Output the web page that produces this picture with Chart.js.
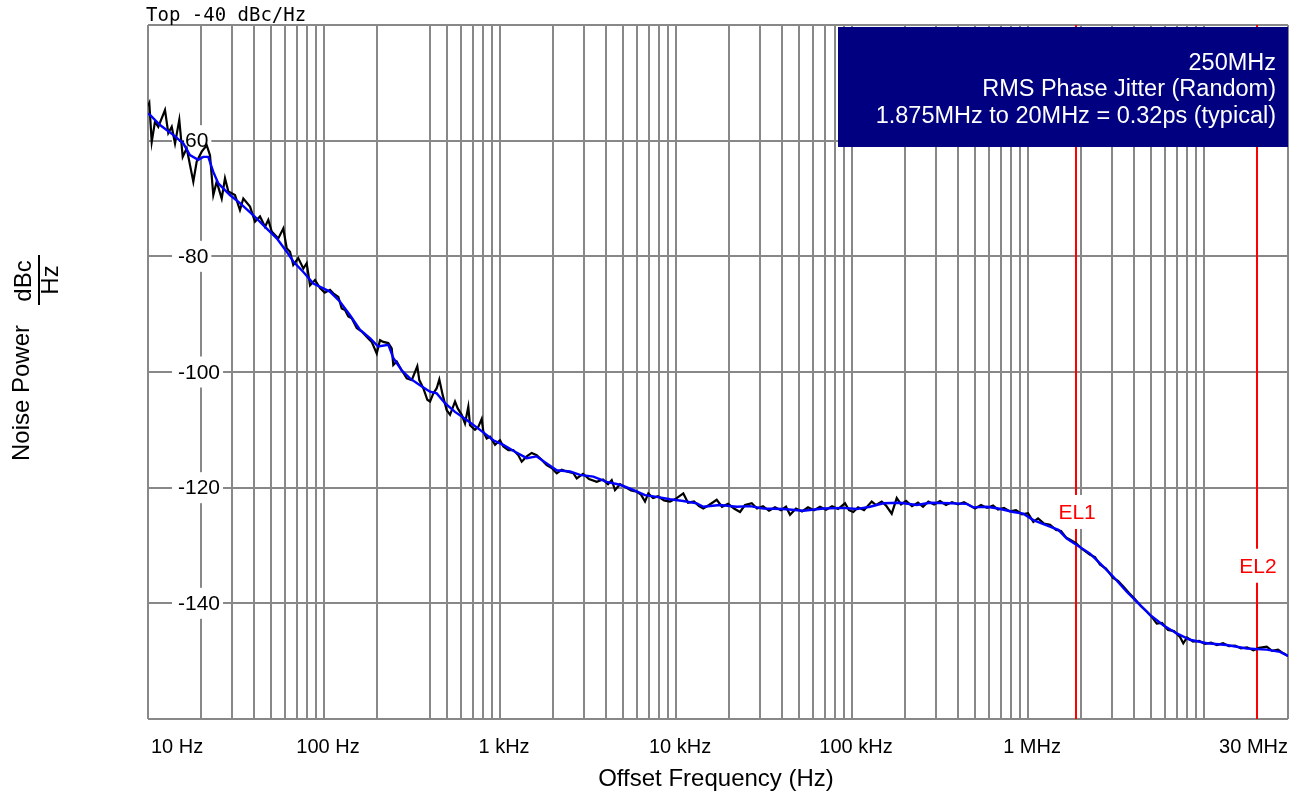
<!DOCTYPE html>
<html><head><meta charset="utf-8">
<script src="https://cdn.jsdelivr.net/npm/chart.js@4/dist/chart.umd.min.js"></script>
<style>html,body{margin:0;padding:0;background:#fff}#wrap{width:1294px;height:796px}</style>
</head><body><div id="wrap"><canvas id="c" width="1294" height="796"></canvas></div>
<script>
// ---- raw measured noise (black) ----
const blackFreq = [10,10.17,10.5,10.96,11.44,12.49,13.04,13.64,14.24,15.06,15.75,16.59,18.09,18.91,20.19,21.56,22.5,23.5,24.56,26.23,27.38,28.6,31.2,33.3,34.8,37.98,40.55,43.29,46.22,48.26,50.45,55.0,58.7,61.4,64.1,66.9,71.4,76.3,79.7,83.3,88.9,94.9,101,
108.2,112.9,120.6,126.1,131.6,137.4,143.7,153.4,163.8,171.0,178.5,186.6,199.3,208.1,217.3,231.9,242.5,247.6,258.9,276.4,295.1,315.1,338.9,347.9,366.6,386.4,400.3,417.9,436.9,452.0,472.6,498.1,520.0,555.2,575.2,605.9,632.6,660.5,675.3,721.1,752.9,787.1,803.8,840.3,877.4,936.8,
1000,1044,1115,1190,1271,1328,1418,1514,1616,1726,1842,1967,2100,2242,2393,2610,2728,2962,3204,3543,3847,4108,4312,4502,4808,5200,5552,5981,6326,6666,6960,7403,7903,8548,9245,
10000,11003,11700,12660,13510,14290,15400,17030,18260,19750,21360,23100,24660,26930,28860,31210,33760,36510,39500,42170,44430,48060,51990,56230,60820,65790,71160,76980,83260,91250,96160,
101700,108200,117000,129400,136900,147500,156100,168100,179500,189900,202700,219200,237100,253200,271400,292400,316200,342000,370000,400200,432800,468100,500000,540800,584800,632600,675300,730400,790000,854500,924500,
1000000,1072000,1140000,1233000,1334000,1443000,1540000,1644000,1755000,1874000,2027000,2251000,2403000,2566000,2775000,3041000,3247000,3480000,3749000,4055000,4385000,4725000,5064000,5387000,5773000,6244000,6753000,7304000,7625000,8006000,8660000,9367000,
10130000,10960000,11850000,12820000,13870000,15000000,16230000,17550000,19060000,20540000,22720000,24350000,26330000,28110000,30000000];
const blackVal = [-54.0,-53.5,-60.2,-56.7,-57.6,-54.7,-58.7,-57.6,-60.5,-56.4,-62.8,-61.3,-67.1,-63.6,-61.9,-60.8,-62.5,-69.4,-67.1,-70.0,-66.5,-68.8,-69.4,-72.0,-70.0,-71.4,-74.0,-73.1,-74.9,-73.7,-75.7,-76.9,-75.2,-78.6,-79.2,-81.5,-80.3,-82.1,-81.2,-85.0,-84.1,-85.5,-86.3,
-85.8,-86.4,-87.0,-89.0,-89.3,-90.4,-90.7,-92.4,-93.0,-93.6,-94.2,-94.8,-96.8,-94.5,-94.8,-95.0,-95.9,-98.8,-98.2,-99.7,-101.1,-101.4,-99.0,-101.4,-102.8,-104.8,-105.1,-103.7,-102.8,-101.3,-104.0,-106.6,-107.4,-105.1,-106.3,-107.4,-108.9,-106.0,-109.2,-110.0,-109.5,-108.1,-110.3,-111.5,-111.2,-112.6,
-111.8,-112.9,-113.5,-113.5,-114.4,-115.5,-114.6,-114.0,-114.4,-115.2,-116.1,-116.6,-117.5,-116.9,-117.2,-117.5,-118.4,-117.6,-118.5,-119.0,-118.6,-119.4,-118.7,-120.4,-119.4,-120.0,-120.5,-120.7,-121.2,-122.4,-121.0,-121.8,-121.5,-122.2,-122.4,
-121.9,-121.0,-122.6,-122.4,-123.2,-123.6,-123.0,-122.1,-123.3,-122.8,-123.6,-124.2,-123.0,-122.7,-123.6,-123.2,-124.0,-123.4,-123.9,-123.3,-124.7,-123.6,-124.1,-123.4,-123.9,-123.3,-123.8,-123.2,-123.7,-122.7,-123.9,
-124.2,-123.4,-123.9,-122.4,-123.0,-122.4,-123.1,-124.5,-121.8,-122.9,-122.3,-123.2,-122.6,-123.3,-122.4,-122.9,-122.3,-123.0,-122.5,-122.9,-122.5,-123.1,-123.6,-123.0,-123.5,-123.1,-123.8,-123.5,-124.1,-123.9,-124.6,
-124.4,-125.9,-125.3,-126.2,-126.4,-127.3,-127.5,-128.6,-129.1,-129.6,-130.6,-131.6,-132.0,-133.3,-134.0,-135.6,-136.1,-137.1,-138.2,-139.3,-140.5,-141.4,-142.4,-143.5,-143.4,-144.6,-144.8,-145.8,-146.9,-145.9,-146.6,-146.5,
-147.0,-146.8,-147.2,-146.9,-147.4,-147.3,-147.8,-147.6,-148.1,-147.7,-147.5,-148.2,-148.0,-148.6,-149.1];

// ---- smoothed noise (blue) ----
const blueFreq = [10,10.3,11.7,13.9,15.9,17.3,19.3,20.6,22.0,23.5,25.1,29.2,33.3,39.7,47.3,53.9,61.4,66.9,76.3,87.0,108,123,140,160,183,203,232,248,276,308,351,400,437,487,555,647,770,916,
1044,1217,1418,1616,1842,2100,2500,2848,3390,4040,4808,5720,6666,7768,9245,11000,13110,14290,17780,22130,26330,31330,40710,52890,68690,89260,106300,126600,150600,187400,233200,277500,360600,448500,488900,582500,678100,825000,940400,
1072000,1277000,1487000,1660000,1891000,2251000,2566000,3053000,3637000,4146000,4934000,5871000,6998000,8326000,10360000,13460000,17480000,22710000,27030000,30000000];
const blueVal = [-55.3,-55.6,-57.3,-59.0,-60.5,-62.5,-63.3,-62.8,-62.8,-65.4,-67.4,-69.4,-70.8,-72.9,-75.2,-76.9,-79.2,-80.9,-82.7,-84.7,-86.1,-87.8,-90.1,-92.7,-94.2,-95.6,-95.3,-97.6,-99.7,-101.1,-102.3,-103.4,-103.7,-105.4,-106.9,-108.3,-110.0,-111.8,
-112.6,-113.8,-114.9,-114.6,-115.8,-117.0,-117.2,-117.8,-118.1,-119.0,-119.5,-120.4,-121.3,-121.6,-122.0,-122.3,-122.7,-123.3,-123.0,-123.3,-123.2,-123.6,-123.7,-124.0,-123.6,-123.5,-123.7,-123.3,-122.7,-122.6,-123.0,-122.6,-122.7,-122.8,-123.4,-123.3,-123.6,-124.2,-124.5,
-125.6,-126.5,-127.3,-128.8,-129.9,-131.4,-133.1,-135.4,-138.0,-139.7,-142.0,-143.8,-145.2,-146.3,-146.9,-147.2,-147.8,-148.0,-148.4,-149.1];

// ---- axes ----
const gridFreqs = [10,20,30,40,50,60,70,80,90,100,200,400,500,600,700,800,900,
  1000,2000,3000,4000,5000,6000,7000,8000,9000,10000,20000,30000,40000,50000,60000,70000,80000,90000,
  100000,200000,300000,400000,500000,600000,700000,800000,900000,1000000,2000000,3000000,4000000,5000000,6000000,7000000,8000000,9000000,10000000,20000000,30000000];
const xLabelValues = [10,100,1000,10000,100000,1000000,30000000];
const xLabelTexts = ['10 Hz','100 Hz','1 kHz','10 kHz','100 kHz','1 MHz','30 MHz'];
const yGridValues = [-160,-140,-120,-100,-80,-60,-40];
const yLabelValues = [-60,-80,-100,-120,-140];
const markerFreqs = [1875000,20000000];
const markerLabels = ['EL1','EL2'];
const markerLabelValues = [-124.2,-133.5];
const infoLines = ['250MHz','RMS Phase Jitter (Random)','1.875MHz to 20MHz = 0.32ps (typical)'];

const SANS = '"Liberation Sans", Arial, sans-serif';
const GRID = '#888888';

const toXY = (fs, vs) => fs.map((f, i) => ({x: f, y: vs[i]}));

const deco = {
  id: 'deco',
  beforeDatasetsDraw(chart) {
    const ctx = chart.ctx, a = chart.chartArea, xs = chart.scales.x, ys = chart.scales.y;
    ctx.save();
    // marker lines
    ctx.strokeStyle = '#ff0000'; ctx.lineWidth = 2;
    markerFreqs.forEach(f => {
      const px = Math.round(xs.getPixelForValue(f));
      ctx.beginPath(); ctx.moveTo(px, a.top); ctx.lineTo(px, a.bottom); ctx.stroke();
    });
    // marker labels
    ctx.font = '21px ' + SANS; ctx.textBaseline = 'middle'; ctx.textAlign = 'center';
    markerLabels.forEach((t, i) => {
      const px = xs.getPixelForValue(markerFreqs[i]) + 1;
      const py = ys.getPixelForValue(markerLabelValues[i]);
      const w = ctx.measureText(t).width;
      ctx.fillStyle = '#fff'; ctx.fillRect(px - w/2 - 3, py - 17, w + 6, 34);
      ctx.fillStyle = '#ff0000'; ctx.fillText(t, px, py + 1);
    });
    // y labels inside plot
    ctx.font = '21px ' + SANS; ctx.textAlign = 'left';
    yLabelValues.forEach(v => {
      const py = ys.getPixelForValue(v);
      const t = String(v);
      const w = ctx.measureText(t).width;
      ctx.fillStyle = '#fff'; ctx.fillRect(a.left + 24, py - 15.5, w + 9, 31);
      ctx.fillStyle = '#000'; ctx.fillText(t, a.left + 30, py + 1);
    });
    ctx.restore();
  },
  afterDraw(chart) {
    const ctx = chart.ctx, a = chart.chartArea, xs = chart.scales.x;
    ctx.save();
    // info box
    ctx.fillStyle = '#000080';
    ctx.fillRect(838, a.top + 2, a.right - 838, 120);
    ctx.fillStyle = '#fff'; ctx.font = '23.5px ' + SANS; ctx.textAlign = 'right'; ctx.textBaseline = 'alphabetic';
    infoLines.forEach((t, i) => ctx.fillText(t, a.right - 12, 70 + i * 26.3));
    // top caption
    ctx.fillStyle = '#000'; ctx.font = '19px "DejaVu Sans Mono", monospace'; ctx.textAlign = 'left';
    ctx.fillText('Top -40 dBc/Hz', 146, 21);
    // x tick labels
    ctx.font = '20px ' + SANS; ctx.textBaseline = 'middle';
    xLabelValues.forEach((v, i) => {
      const px = xs.getPixelForValue(v);
      if (i === 0) { ctx.textAlign = 'left'; ctx.fillText(xLabelTexts[i], px + 3, 747); }
      else if (i === xLabelValues.length - 1) { ctx.textAlign = 'right'; ctx.fillText(xLabelTexts[i], px, 747); }
      else { ctx.textAlign = 'center'; ctx.fillText(xLabelTexts[i], px + 4, 747); }
    });
    // x title
    ctx.font = '24px ' + SANS; ctx.textAlign = 'center'; ctx.textBaseline = 'alphabetic';
    ctx.fillText('Offset Frequency (Hz)', (a.left + a.right) / 2 - 2, 786);
    // y title (rotated)
    const rot = (t, x, y) => { ctx.save(); ctx.translate(x, y); ctx.rotate(-Math.PI / 2); ctx.fillText(t, 0, 0); ctx.restore(); };
    rot('Noise Power', 28.5, 393);
    rot('dBc', 31, 281);
    rot('Hz', 58, 280);
    ctx.strokeStyle = '#000'; ctx.lineWidth = 2;
    ctx.beginPath(); ctx.moveTo(39, 255); ctx.lineTo(39, 305); ctx.stroke();
    ctx.restore();
  }
};

new Chart(document.getElementById('c'), {
  type: 'line',
  data: {
    datasets: [
      {label: 'Smoothed', data: toXY(blueFreq, blueVal), borderColor: '#0000ff', borderWidth: 2.4, pointRadius: 0, tension: 0, order: 0},
      {label: 'Measured', data: toXY(blackFreq, blackVal), borderColor: '#000000', borderWidth: 2.2, pointRadius: 0, tension: 0, order: 1}
    ]
  },
  options: {
    responsive: false, animation: false, devicePixelRatio: 1,
    layout: {padding: {left: 148, top: 25, right: 6, bottom: 77}},
    plugins: {legend: {display: false}, tooltip: {enabled: false}},
    scales: {
      x: {
        type: 'logarithmic', min: 10, max: 30000000,
        afterBuildTicks: s => { s.ticks = gridFreqs.map(v => ({value: v})); },
        afterFit: s => { s.height = 0; },
        ticks: {display: false},
        grid: {color: GRID, lineWidth: 2, drawTicks: false},
        border: {display: false}
      },
      y: {
        type: 'linear', min: -160, max: -40,
        afterBuildTicks: s => { s.ticks = yGridValues.map(v => ({value: v})); },
        afterFit: s => { s.width = 0; },
        ticks: {display: false},
        grid: {color: GRID, lineWidth: 2, drawTicks: false},
        border: {display: false}
      }
    }
  },
  plugins: [deco]
});
</script></body></html>
